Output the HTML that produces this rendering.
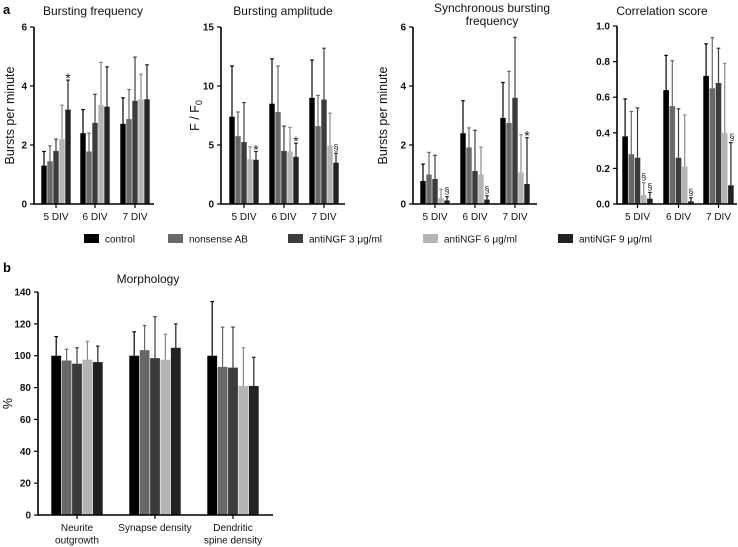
<!DOCTYPE html>
<html><head><meta charset="utf-8"><style>
body{margin:0;background:#fff;}
svg{display:block;font-family:"Liberation Sans",Arial,sans-serif;}
</style></head><body>
<svg id="fig" width="738" height="547" viewBox="0 0 738 547" xmlns="http://www.w3.org/2000/svg">
<text x="3" y="14" font-size="13" font-weight="bold">a</text>
<text x="3" y="272" font-size="13" font-weight="bold">b</text>
</svg>
<script>
const seriesNames=["control","nonsense AB","antiNGF 3 μg/ml","antiNGF 6 μg/ml","antiNGF 9 μg/ml"];
const colors=["#000000","#686868","#3c3c3c","#b4b4b4","#222222"];
const errColors=["#000000","#686868","#3c3c3c","#8a8a8a","#222222"];
const divCats=["5 DIV","6 DIV","7 DIV"];
// panel 1: bursting frequency
const freqVals=[[1.3,1.45,1.8,2.2,3.2],[2.4,1.78,2.75,3.35,3.3],[2.72,2.88,3.5,3.55,3.55]];
const freqErr=[[1.78,1.97,2.2,3.35,4.2],[3.2,2.4,3.72,4.8,4.65],[3.6,3.88,4.98,4.4,4.72]];
const freqTicks=["0","2","4","6"];
const freqMarks=[[0,4,"*"]];
// panel 2: amplitude
const ampVals=[[7.4,5.75,5.25,3.8,3.75],[8.5,7.8,4.5,4.45,4.0],[9.0,6.6,8.85,4.95,3.5]];
const ampErr=[[11.7,7.8,8.6,4.85,4.45],[12.3,11.7,6.6,6.5,5.15],[12.2,9.2,13.2,7.7,4.3]];
const ampTicks=["0","5","10","15"];
const ampMarks=[[0,4,"*"],[1,4,"*"],[2,4,"§"]];
// panel 3: synchronous bursting
const syncVals=[[0.78,1.0,0.85,0.2,0.12],[2.4,1.92,1.12,1.0,0.15],[2.92,2.75,3.6,1.07,0.68]];
const syncErr=[[1.35,1.75,1.65,0.5,0.25],[3.5,2.58,2.5,1.93,0.28],[4.12,4.5,5.65,2.35,2.25]];
const syncTicks=["0","2","4","6"];
const syncMarks=[[0,4,"§"],[1,4,"§"],[2,4,"*"]];
// panel 4: correlation
const corrVals=[[0.38,0.28,0.26,0.05,0.03],[0.64,0.55,0.26,0.21,0.015],[0.72,0.65,0.68,0.4,0.105]];
const corrErr=[[0.59,0.52,0.54,0.12,0.065],[0.835,0.805,0.535,0.5,0.035],[0.9,0.935,0.875,0.79,0.345]];
const corrTicks=["0.0","0.2","0.4","0.6","0.8","1.0"];
const corrMarks=[[0,3,"§"],[0,4,"§"],[1,4,"§"],[2,4,"§",0.36]];
// panel b: morphology
const morphCats=[["Neurite","outgrowth"],["Synapse density"],["Dendritic","spine density"]];
const morphVals=[[100,97,95,97.5,96],[100,103.5,98.5,97.5,105],[100,93,92.5,81,81]];
const morphErr=[[112,104,105,109,106],[115,119,124.5,113.5,120],[134,118,118,105,99]];
const morphTicks=["0","20","40","60","80","100","120","140"];

const NS="http://www.w3.org/2000/svg";
const svg=document.getElementById('fig');
function mk(tag,attrs,parent){const e=document.createElementNS(NS,tag);for(const k in attrs)e.setAttribute(k,attrs[k]);(parent||svg).appendChild(e);return e;}

function panel(o){
  const g=mk('g',{});
  
  
  const maxV=parseFloat(o.ticks[o.ticks.length-1]);
  const y=v=>o.y0-(v/maxV)*(o.y0-o.y1);
  const bw=o.gw/5;
  o.vals.forEach((grp,gi)=>{
    grp.forEach((v,si)=>{
      const x=o.gx[gi]+si*bw;
      const r=mk('rect',{x:x+0.3,y:y(v),width:bw-0.6,height:o.y0-y(v),fill:colors[si]},g);
      
      
      const cx=x+bw/2, ey=y(o.err[gi][si]);
      const l=mk('line',{x1:cx,x2:cx,y1:y(v),y2:ey,stroke:errColors[si],'stroke-width':1.2},g);
      
      
      mk('line',{x1:cx-1.8,x2:cx+1.8,y1:ey,y2:ey,stroke:errColors[si],'stroke-width':1.2},g);
    });
  });
  const ya=mk('line',{x1:o.ax,x2:o.ax,y1:o.y1,y2:o.y0+0.8,stroke:'#000','stroke-width':1.6},g);
  
  
  const xa=mk('line',{x1:o.ax,x2:o.xEnd,y1:o.y0,y2:o.y0,stroke:'#000','stroke-width':1.6},g);
  
  
  o.ticks.forEach(t=>{
    const yy=y(parseFloat(t));
    mk('line',{x1:o.ax-4,x2:o.ax,y1:yy,y2:yy,stroke:'#000','stroke-width':1.2},g);
    const tx=mk('text',{x:o.ax-7,y:yy+3.5,'font-size':10,'text-anchor':'end','font-weight':'bold',fill:'#111'},g);
    tx.textContent=t;
    
    
  });
  o.cats.forEach((c,gi)=>{
    const cx=o.gx[gi]+o.gw/2;
    mk('line',{x1:cx,x2:cx,y1:o.y0,y2:o.y0+4,stroke:'#000','stroke-width':1.2},g);
    const lines=Array.isArray(c)?c:[c];
    lines.forEach((ln,li)=>{
      const tx=mk('text',{x:cx,y:o.y0+16+li*12.5,'font-size':10,'text-anchor':'middle',fill:'#111'},g);
      tx.textContent=ln;
      
      
    });
  });
  o.title.forEach((t,i)=>{
    const tx=mk('text',{x:o.tx,y:o.ty+i*13,'font-size':12,'text-anchor':'middle',fill:'#111'},g);
    tx.textContent=t;
    
    
  });
  if(o.ytitle){
    const yt=mk('text',{x:0,y:0,'font-size':12.5,'text-anchor':'middle',fill:'#111',transform:`translate(${o.ytx},${(o.y0+o.y1)/2}) rotate(-90)`},g);
    
    
    if(o.ytitle==='F0'){yt.textContent='F / F';const s=mk('tspan',{'font-size':9,dy:3},yt);s.textContent='0';}
    else yt.textContent=o.ytitle;
  }
  (o.marks||[]).forEach(m=>{
    const x=o.gx[m[0]]+m[1]*bw+bw/2;
    let yy=m[3]!==undefined?y(m[3]):y(o.err[m[0]][m[1]])-3;
    const tx=mk('text',{x:m[3]!==undefined?x+1:x,y:yy,'font-size':m[2]==='*'?14:9,'text-anchor':'middle',fill:'#222'},g);
    if(m[2]==='*')tx.setAttribute('y',yy+6);
    tx.textContent=m[2];
    
    
  });
}

panel({name:'bursting-frequency-chart',vals:freqVals,err:freqErr,ticks:freqTicks,marks:freqMarks,cats:divCats,
  ax:34,xEnd:154,y0:204,y1:27,gx:[41,80,120],gw:30,title:['Bursting frequency'],tx:93,ty:15,ytitle:'Bursts per minute',ytx:14});
panel({name:'bursting-amplitude-chart',vals:ampVals,err:ampErr,ticks:ampTicks,marks:ampMarks,cats:divCats,
  ax:221,xEnd:345,y0:204,y1:27,gx:[229,269,309],gw:30,title:['Bursting amplitude'],tx:283,ty:15,ytitle:'F0',ytx:199});
panel({name:'synchronous-bursting-chart',vals:syncVals,err:syncErr,ticks:syncTicks,marks:syncMarks,cats:divCats,
  ax:413,xEnd:537,y0:204,y1:27,gx:[420,460,500],gw:30,title:['Synchronous bursting','frequency'],tx:492,ty:12,ytitle:'Bursts per minute',ytx:387});
panel({name:'correlation-score-chart',vals:corrVals,err:corrErr,ticks:corrTicks,marks:corrMarks,cats:divCats,
  ax:617,xEnd:737,y0:204,y1:26,gx:[622,663,703],gw:31,title:['Correlation score'],tx:662,ty:15});
panel({name:'morphology-chart',vals:morphVals,err:morphErr,ticks:morphTicks,cats:morphCats,
  ax:38,xEnd:273,y0:515,y1:292,gx:[51,129,207],gw:52,title:['Morphology'],tx:148,ty:283,ytitle:'%',ytx:12});

const legX=[84,168,288,423,558];
const lg=mk('g',{});


seriesNames.forEach((n,i)=>{
  const r=mk('rect',{x:legX[i],y:234,width:15,height:9,fill:colors[i]},lg);
  
  
  const t=mk('text',{x:legX[i]+21,y:242.5,'font-size':10,fill:'#111'},lg);
  t.textContent=n;
  
  
});
</script>
</body></html>
